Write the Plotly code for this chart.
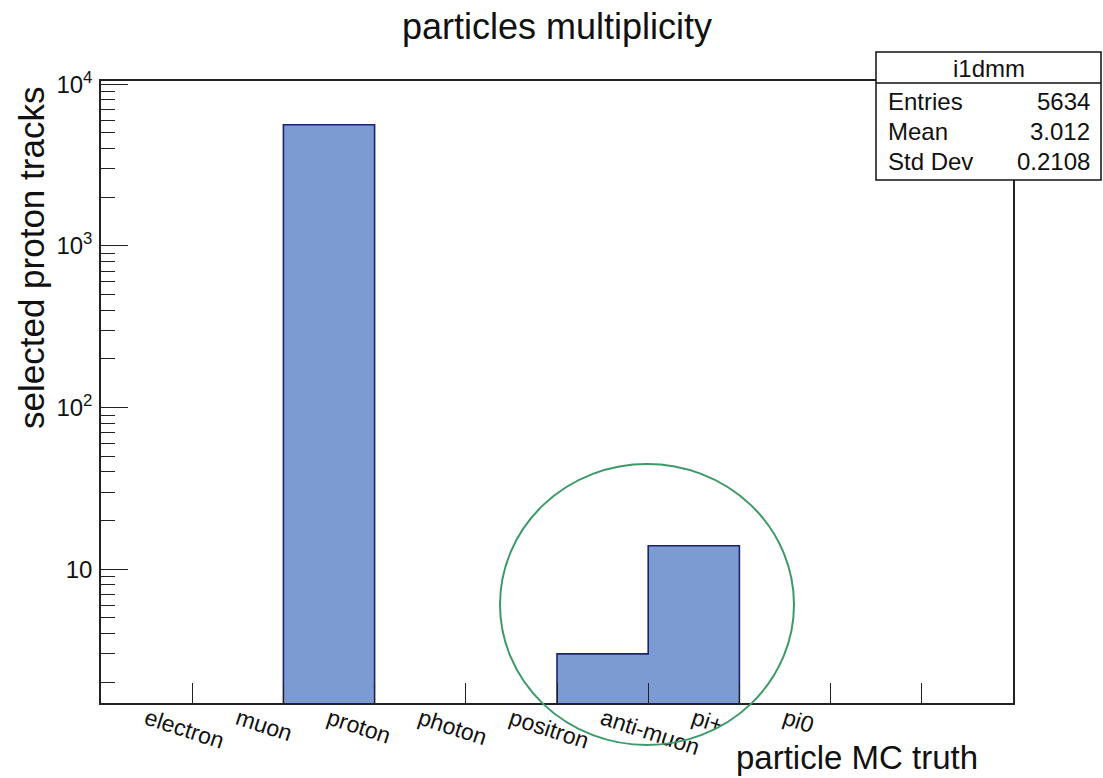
import numpy as np
import plotly.graph_objects as go

# Histogram content: one bin per particle species (bins centred on 1..10);
# the last two bins carry no label
categories = ["electron", "muon", "proton", "photon", "positron",
              "anti-muon", "pi+", "pi0"]
counts = [0, 0, 5617, 0, 0, 3, 14, 0, 0, 0]
bin_centers = list(range(1, 11))

# Stats box entries
stats_name = "i1dmm"
stats_rows = [("Entries", "5634"), ("Mean", "3.012"), ("Std Dev", "0.2108")]

W, H = 1103, 778
L, R, T, B = 101, 1013, 81, 703          # frame in pixels
PW, PH = R - L, B - T

def px(x):
    return (x - L) / PW

def py(y):
    return (B - y) / PH

FILL = "#7d9bd3"
EDGE = "#1c2470"
FONT = "Liberation Sans, Arial, Helvetica, sans-serif"
INK = "#111111"

edges = np.arange(0.5, 11.0, 1.0)
floor = 0.5
y_vals = [c if c > 0 else floor for c in counts]
step_x = [edges[0]] + list(edges[:-1]) + [edges[-1]]
step_y = [floor] + y_vals + [y_vals[-1]]

fig = go.Figure()
fig.add_trace(go.Bar(
    x=bin_centers,
    y=[c if c > 0 else None for c in counts],
    width=1.0,
    marker=dict(color=FILL, line=dict(width=0)),
    hoverinfo="skip",
    showlegend=False,
))
# histogram outline drawn as a step line
fig.add_trace(go.Scatter(
    x=step_x, y=step_y, mode="lines",
    line=dict(shape="hv", color=EDGE, width=1.6),
    hoverinfo="skip", showlegend=False,
))

# y: decades with minor ticks 2..9
major_y = [10, 100, 1000, 10000]
major_txt = ["10", "10<sup>2</sup>", "10<sup>3</sup>", "10<sup>4</sup>"]
minor_y = [m * 10 ** d for d in range(0, 4) for m in range(2, 10)]

ymin, ymax = 1.49, 10480.0

fig.update_layout(
    width=W, height=H,
    margin=dict(l=L, r=W - R, t=T, b=H - B, pad=0),
    paper_bgcolor="white", plot_bgcolor="white",
    font=dict(family=FONT, color=INK),
    bargap=0,
    xaxis=dict(
        range=[0.5, 10.5],
        tickmode="array", tickvals=bin_centers[:len(categories)],
        ticktext=categories,
        ticks="", tickangle=18, ticklabelstandoff=-8,
        tickfont=dict(size=23, family=FONT, color=INK),
        showgrid=False, zeroline=False,
        showline=True, linecolor="#222222", linewidth=1.5, mirror=True,
        minor=dict(tickmode="array", tickvals=list(edges[1:-1]),
                   ticks="inside", ticklen=20, tickwidth=1.2,
                   tickcolor="#222222", showgrid=False),
    ),
    yaxis=dict(
        type="log",
        range=[np.log10(ymin), np.log10(ymax)],
        tickmode="array", tickvals=major_y, ticktext=major_txt,
        ticks="inside", ticklen=27, tickwidth=1.2, tickcolor="#222222",
        tickfont=dict(size=24, family=FONT, color=INK),
        ticklabelstandoff=2,
        showgrid=False, zeroline=False,
        showline=True, linecolor="#222222", linewidth=1.5, mirror=True,
        minor=dict(tickmode="array", tickvals=minor_y,
                   ticks="inside", ticklen=14, tickwidth=1.2,
                   tickcolor="#222222", showgrid=False),
    ),
)

annotations = [
    dict(text="particles multiplicity", x=px(557), y=py(27),
         xanchor="center", yanchor="middle",
         font=dict(size=36, family=FONT, color=INK)),
    dict(text="particle MC truth", x=px(980), y=py(757),
         xanchor="right", yanchor="middle",
         font=dict(size=33, family=FONT, color=INK)),
    dict(text="selected proton tracks", x=px(31), y=py(258),
         xanchor="center", yanchor="middle", textangle=-90,
         font=dict(size=35, family=FONT, color=INK)),
]

# Stats box
bx0, bx1, by0, by1, hsep = 876, 1101, 52, 180, 83
shapes = [
    dict(type="rect", xref="paper", yref="paper",
         x0=px(bx0), x1=px(bx1), y0=py(by1), y1=py(by0),
         line=dict(color=INK, width=1.5), fillcolor="white", layer="above"),
    dict(type="line", xref="paper", yref="paper",
         x0=px(bx0), x1=px(bx1), y0=py(hsep), y1=py(hsep),
         line=dict(color=INK, width=1.5), layer="above"),
]
annotations.append(dict(text=stats_name, x=px((bx0 + bx1) / 2), y=py(68),
                        xanchor="center", yanchor="middle",
                        font=dict(size=24, family=FONT, color=INK)))
row_y = [101, 131, 161]
for (name, val), ry in zip(stats_rows, row_y):
    annotations.append(dict(text=name, x=px(886), y=py(ry),
                            xanchor="left", yanchor="middle",
                            font=dict(size=24, family=FONT, color=INK)))
    annotations.append(dict(text=val, x=px(1092), y=py(ry),
                            xanchor="right", yanchor="middle",
                            font=dict(size=24, family=FONT, color=INK)))

# Highlight ring around the anti-muon / pi+ bins
shapes.append(dict(type="circle", xref="paper", yref="paper",
                   x0=px(500), x1=px(794), y0=py(745), y1=py(464),
                   line=dict(color="#3d9a68", width=2), layer="above"))

for a in annotations:
    a.setdefault("xref", "paper")
    a.setdefault("yref", "paper")
    a.setdefault("showarrow", False)

fig.update_layout(annotations=annotations, shapes=shapes)
fig.write_html("out.html")
